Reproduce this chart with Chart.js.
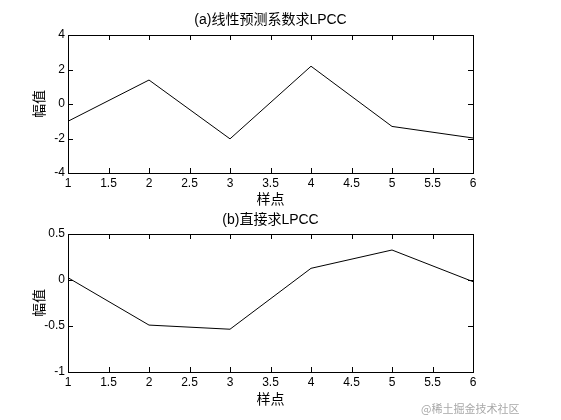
<!DOCTYPE html>
<html><head><meta charset="utf-8">
<script src="https://cdn.jsdelivr.net/npm/chart.js@4"></script>
<style>
html,body{margin:0;padding:0;background:#fff;width:561px;height:420px;overflow:hidden;}
#c1{position:absolute;left:0;top:0;}
#c2{position:absolute;left:0;top:200px;}
#wm{position:absolute;left:421px;top:400px;font:11px "Noto Sans CJK SC",sans-serif;color:#a8a8a8;white-space:nowrap;}
</style></head>
<body>
<canvas id="c1" width="561" height="210" style="width:561px;height:210px"></canvas>
<canvas id="c2" width="561" height="220" style="width:561px;height:220px"></canvas>
<div id="wm">@稀土掘金技术社区</div>
<script>
const samplePoints = [1, 2, 3, 4, 5, 6];
const lpccFromLPC = [-1.0, 1.39, -2.02, 2.19, -1.3, -1.97];
const lpccDirect = [0.025, -0.49, -0.535, 0.127, 0.326, -0.018];
const titleA = '(a)线性预测系数求LPCC';
const titleB = '(b)直接求LPCC';
const xLabel = '样点';
const yLabel = '幅值';

const FONT = '"Liberation Sans", Arial, "Noto Sans CJK SC", sans-serif';

const boxTicks = {
  id: 'boxTicks',
  afterDraw(chart, args, opts) {
    const {ctx, chartArea: a, scales} = chart;
    ctx.save();
    ctx.strokeStyle = '#000';
    ctx.lineWidth = 1;
    ctx.strokeRect(Math.round(a.left) + 0.5, Math.round(a.top) + 0.5, Math.round(a.right - a.left), Math.round(a.bottom - a.top));
    const L = 5;
    ctx.beginPath();
    scales.x.ticks.forEach(t => {
      const px = Math.round(scales.x.getPixelForValue(t.value)) + 0.5;
      ctx.moveTo(px, a.bottom); ctx.lineTo(px, a.bottom - L);
      ctx.moveTo(px, a.top); ctx.lineTo(px, a.top + L);
    });
    scales.y.ticks.forEach(t => {
      const py = Math.round(scales.y.getPixelForValue(t.value)) + 0.5;
      ctx.moveTo(a.left, py); ctx.lineTo(a.left + L, py);
      ctx.moveTo(a.right, py); ctx.lineTo(a.right - L, py);
    });
    ctx.stroke();
    // title centred over the plot area
    ctx.fillStyle = '#000';
    ctx.font = '14px ' + FONT;
    ctx.textAlign = 'center';
    ctx.textBaseline = 'middle';
    ctx.fillText(opts.text, (a.left + a.right) / 2, opts.y);
    ctx.restore();
  }
};

function makeChart(id, values, title, yMin, yMax, yStep, topPad, titleY, xHeight, xTitlePadBottom) {
  return new Chart(document.getElementById(id), {
    type: 'line',
    data: {
      datasets: [{
        data: samplePoints.map((x, i) => ({x, y: values[i]})),
        borderColor: '#000',
        borderWidth: 1,
        pointRadius: 0,
        tension: 0,
        fill: false
      }]
    },
    options: {
      responsive: false,
      animation: false,
      devicePixelRatio: 1,
      layout: {padding: {left: 0, right: 88, top: topPad, bottom: 0}},
      plugins: {
        legend: {display: false},
        tooltip: {enabled: false},
        title: {display: false},
        boxTicks: {text: title, y: titleY}
      },
      scales: {
        x: {
          type: 'linear', min: 1, max: 6,
          ticks: {stepSize: 0.5, color: '#000', padding: 3, maxRotation: 0, autoSkip: false,
                  font: {family: FONT, size: 12}, callback: v => String(v)},
          grid: {display: false, drawTicks: false},
          border: {display: false},
          title: {display: true, text: xLabel, color: '#000',
                  font: {family: FONT, size: 14, lineHeight: 1.2},
                  padding: {top: 0, bottom: xTitlePadBottom}},
          afterFit: s => { s.height = xHeight; }
        },
        y: {
          type: 'linear', min: yMin, max: yMax,
          ticks: {stepSize: yStep, color: '#000', padding: 3,
                  font: {family: FONT, size: 12}, callback: v => String(v)},
          grid: {display: false, drawTicks: false},
          border: {display: false},
          title: {display: true, text: yLabel, color: '#000',
                  font: {family: FONT, size: 14, lineHeight: 1.2},
                  padding: {top: 31.6, bottom: 0}},
          afterFit: s => { s.width = 68; }
        }
      }
    },
    plugins: [boxTicks]
  });
}

makeChart('c1', lpccFromLPC, titleA, -4, 4, 2, 35, 20, 37, 1.6);
makeChart('c2', lpccDirect, titleB, -1, 0.5, 0.5, 34, 20, 48, 11.6);
</script>
</body></html>
